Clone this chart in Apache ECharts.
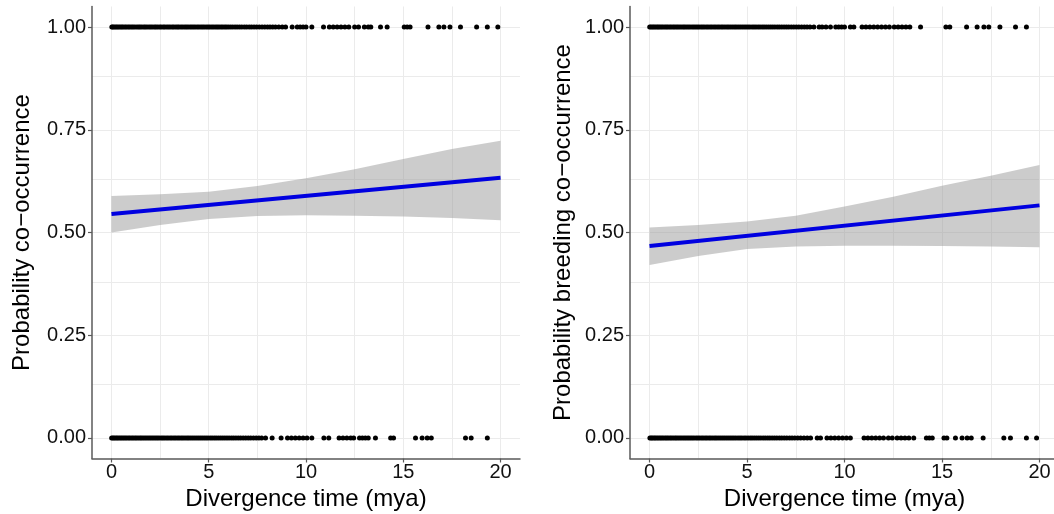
<!DOCTYPE html>
<html>
<head>
<meta charset="utf-8">
<script src="https://cdn.jsdelivr.net/npm/echarts@6/dist/echarts.min.js"></script>
<style>
  html, body { margin: 0; padding: 0; background: #fff; }
  #chart { width: 1054px; height: 514px; }
</style>
</head>
<body>
<div id="chart"></div>
<script>
// Divergence time (mya) of observed pairs, split by outcome (1 = co-occur, 0 = not)
const allOnes = [0.02,0.07,0.14,0.22,0.29,0.37,0.45,0.53,0.6,0.69,0.77,0.86,0.94,1.03,1.11,1.2,1.3,1.39,1.47,1.56,1.66,1.74,1.83,1.93,2.02,2.11,2.21,2.29,2.38,2.48,2.56,2.66,2.74,2.84,2.93,3.02,3.12,3.2,3.3,3.39,3.47,3.57,3.66,3.76,3.85,3.94,4.04,4.13,4.22,4.31,4.41,4.5,4.6,4.69,4.78,4.88,4.97,5.06,5.16,5.25,5.35,5.44,5.53,5.63,5.72,5.82,5.91,6.01,6.12,6.23,6.35,6.46,6.58,6.7,6.83,6.95,7.08,7.2,7.33,7.46,7.6,7.74,7.88,8.02,8.15,8.29,8.43,
  8.6,8.78,8.95,9.29,9.55,9.7,9.85,10.0,10.3,10.9,11.2,11.4,11.6,11.8,12.0,12.2,12.5,12.7,13.0,13.2,13.33,13.83,14.17,15.05,15.2,15.35,16.27,16.83,17.09,17.4,17.94,18.77,19.32,19.86];
const allZeros = [0.01,0.08,0.15,0.23,0.3,0.38,0.46,0.54,0.62,0.7,0.78,0.87,0.95,1.04,1.12,1.21,1.29,1.38,1.47,1.55,1.64,1.73,1.82,1.91,2.0,2.09,2.18,2.27,2.36,2.45,2.55,2.64,2.73,2.83,2.92,3.02,3.11,3.21,3.3,3.4,3.49,3.59,3.68,3.78,3.88,3.97,4.07,4.17,4.27,4.37,4.47,4.57,4.67,4.77,4.87,4.97,5.08,5.18,5.29,5.39,5.5,5.61,5.72,5.83,5.94,6.05,6.17,6.28,6.4,6.52,6.64,6.77,6.9,7.03,7.16,7.3,7.44,7.58,7.72,7.92,
  8.26,8.72,9.05,9.25,9.45,9.65,9.85,10.05,10.3,10.92,11.17,11.7,11.9,12.1,12.3,12.45,12.75,12.9,13.05,13.2,13.57,14.35,14.5,15.63,15.97,16.23,16.44,18.2,18.49,19.32];
const breedOnes = [0.01,0.08,0.16,0.23,0.31,0.39,0.46,0.54,0.62,0.7,0.79,0.87,0.95,1.04,1.12,1.21,1.29,1.38,1.46,1.55,1.64,1.73,1.81,1.9,1.99,2.08,2.18,2.27,2.36,2.45,2.54,2.64,2.73,2.82,2.92,3.01,3.11,3.2,3.3,3.39,3.49,3.58,3.68,3.77,3.87,3.97,4.06,4.16,4.26,4.36,4.45,4.55,4.65,4.75,4.85,4.95,5.05,5.15,5.26,5.36,5.46,5.57,5.67,5.78,5.88,5.99,6.1,6.21,6.32,6.43,6.55,6.66,6.78,6.9,7.02,7.14,7.27,7.4,7.53,7.66,7.8,7.94,8.08,8.23,8.43,
  8.7,8.85,9.05,9.28,9.55,9.7,9.85,10.0,10.3,10.48,10.9,11.1,11.3,11.5,11.7,11.9,12.1,12.3,12.55,12.75,12.95,13.15,13.35,13.9,15.2,15.4,16.26,16.8,17.15,17.4,17.97,18.77,19.33];
const breedZeros = [0.02,0.09,0.16,0.24,0.31,0.39,0.47,0.55,0.63,0.71,0.8,0.88,0.96,1.05,1.13,1.22,1.31,1.39,1.48,1.57,1.66,1.75,1.84,1.93,2.02,2.11,2.2,2.29,2.39,2.48,2.57,2.67,2.76,2.86,2.95,3.05,3.14,3.24,3.34,3.43,3.53,3.63,3.73,3.83,3.93,4.03,4.13,4.23,4.33,4.43,4.54,4.64,4.74,4.85,4.95,5.06,5.17,5.27,5.38,5.49,5.6,5.71,5.83,5.94,6.06,6.17,6.29,6.41,6.53,6.66,6.78,6.91,7.04,7.18,7.31,7.45,7.6,7.75,7.92,8.09,
  8.26,8.6,8.77,9.1,9.3,9.5,9.7,9.9,10.1,10.3,11.0,11.2,11.4,11.6,11.8,12.0,12.25,12.45,12.7,12.9,13.1,13.3,13.55,14.2,14.35,14.5,15.1,15.25,15.69,16.03,16.29,16.5,17.11,18.17,18.51,19.33,19.85];

// Logistic fit (endpoints at x = 0 and x = 20) with 95% confidence band
const fitX = [0, 20];
const fitAll = [0.545, 0.633];
const fitBreed = [0.467, 0.566];
const bandX = [0, 2.5, 5, 7.5, 10, 12.5, 15, 17.5, 20];
const bandAllLower = [0.500, 0.518, 0.533, 0.540, 0.542, 0.541, 0.539, 0.535, 0.530];
const bandAllUpper = [0.589, 0.593, 0.599, 0.613, 0.632, 0.654, 0.679, 0.703, 0.723];
const bandBreedLower = [0.421, 0.443, 0.460, 0.466, 0.468, 0.468, 0.467, 0.466, 0.464];
const bandBreedUpper = [0.512, 0.518, 0.527, 0.541, 0.563, 0.587, 0.614, 0.638, 0.664];

// Axis ticks and grid positions
const xTicks = [0, 5, 10, 15, 20];
const xGrid = [0, 2.5, 5, 7.5, 10, 12.5, 15, 17.5, 20];
const yTicks = [0, 0.25, 0.5, 0.75, 1];
const yGrid = [0, 0.125, 0.25, 0.375, 0.5, 0.625, 0.75, 0.875, 1];

const yTitles = ['Probability co\u2212occurrence', 'Probability breeding co\u2212occurrence'];
const xTitle = 'Divergence time (mya)';

const FONT = '"Liberation Sans", Arial, Helvetica, sans-serif';
const AXIS_COLOR = '#5a5a5a';
const GRID_COLOR = '#ebebeb';

const chart = echarts.init(document.getElementById('chart'), null, { renderer: 'canvas' });

function xAxisDef(idx) {
  return {
    type: 'value', gridIndex: idx, min: -1, max: 21,
    name: xTitle, nameLocation: 'middle', nameGap: 22,
    nameTextStyle: { fontFamily: FONT, fontSize: 24, color: '#000' },
    axisLine: { show: true, onZero: false, lineStyle: { color: AXIS_COLOR, width: 1.5 } },
    axisTick: { show: true, customValues: xTicks, length: 4, lineStyle: { color: AXIS_COLOR, width: 1.2 } },
    axisLabel: { customValues: xTicks, margin: 4, fontFamily: FONT, fontSize: 20, color: '#111',
      formatter: v => String(v) },
    splitLine: { show: false }
  };
}
function yAxisDef(idx, gap) {
  return {
    type: 'value', gridIndex: idx, min: -0.05, max: 1.05,
    name: yTitles[idx], nameLocation: 'middle', nameGap: gap, nameRotate: 90,
    nameTextStyle: { fontFamily: FONT, fontSize: 24, color: '#000' },
    axisLine: { show: true, onZero: false, lineStyle: { color: AXIS_COLOR, width: 1.5 } },
    axisTick: { show: true, customValues: yTicks, length: 4, lineStyle: { color: AXIS_COLOR, width: 1.2 } },
    axisLabel: { customValues: yTicks, margin: 6, fontFamily: FONT, fontSize: 20, color: '#111',
      formatter: v => v.toFixed(2) },
    splitLine: { show: false }
  };
}

// Background grid drawn as mark lines so it spans the padded axis range
function gridSeries(idx) {
  return {
    type: 'scatter', xAxisIndex: idx, yAxisIndex: idx, data: [], z: 0, silent: true,
    markLine: {
      z: 0, silent: true, symbol: 'none', label: { show: false },
      lineStyle: { color: GRID_COLOR, width: 1, type: 'solid' },
      emphasis: { disabled: true },
      data: xGrid.map(v => ({ xAxis: v })).concat(yGrid.map(v => ({ yAxis: v })))
    }
  };
}

function bandSeries(idx, lower, upper) {
  return {
    type: 'custom', xAxisIndex: idx, yAxisIndex: idx, z: 1, silent: true,
    data: bandX.map((x, i) => [x, lower[i], upper[i]]),
    encode: { x: 0, y: [1, 2] },
    renderItem: function (params, api) {
      if (params.dataIndex !== 0) return null;
      const pts = [];
      for (let i = 0; i < bandX.length; i++) pts.push(api.coord([bandX[i], upper[i]]));
      for (let i = bandX.length - 1; i >= 0; i--) pts.push(api.coord([bandX[i], lower[i]]));
      return { type: 'polygon', shape: { points: pts }, style: { fill: 'rgba(153,153,153,0.5)' } };
    }
  };
}

function fitSeries(idx, fit) {
  return {
    type: 'line', xAxisIndex: idx, yAxisIndex: idx, z: 3, silent: true,
    data: fitX.map((x, i) => [x, fit[i]]),
    showSymbol: false, symbol: 'none',
    lineStyle: { color: '#0000e0', width: 4 }
  };
}

function dotSeries(idx, xs, y) {
  return {
    type: 'scatter', xAxisIndex: idx, yAxisIndex: idx, z: 4, silent: true,
    symbol: 'circle', symbolSize: 5,
    itemStyle: { color: '#000', opacity: 1, borderWidth: 0 },
    data: xs.map(x => [x, y])
  };
}

chart.setOption({
  animation: false,
  backgroundColor: '#fff',
  grid: [
    { left: 92, top: 6.5, width: 428, height: 452, outerBoundsMode: 'none', containLabel: false },
    { left: 630, top: 6.5, width: 429, height: 452, outerBoundsMode: 'none', containLabel: false }
  ],
  xAxis: [xAxisDef(0), xAxisDef(1)],
  yAxis: [yAxisDef(0, 58), yAxisDef(1, 55)],
  series: [
    gridSeries(0), gridSeries(1),
    bandSeries(0, bandAllLower, bandAllUpper),
    bandSeries(1, bandBreedLower, bandBreedUpper),
    fitSeries(0, fitAll), fitSeries(1, fitBreed),
    dotSeries(0, allOnes, 1), dotSeries(0, allZeros, 0),
    dotSeries(1, breedOnes, 1), dotSeries(1, breedZeros, 0)
  ]
});
</script>
</body>
</html>
